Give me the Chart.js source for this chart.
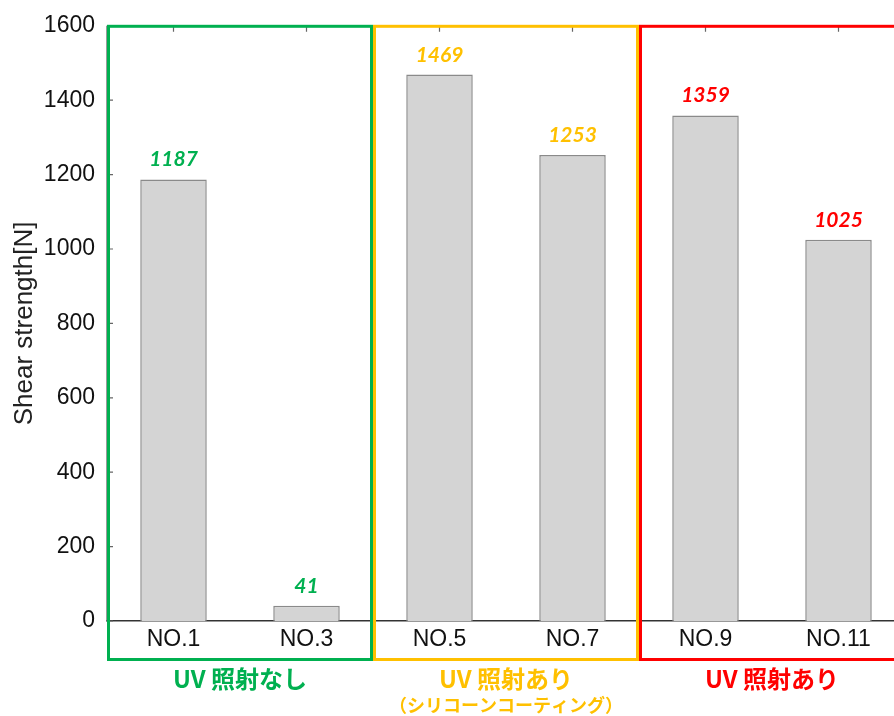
<!DOCTYPE html>
<html>
<head>
<meta charset="utf-8">
<script src="https://cdn.jsdelivr.net/npm/chart.js@4/dist/chart.umd.min.js"></script>
<style>
  html, body { margin: 0; padding: 0; background: #fff; overflow: hidden; }
  #wrap { position: relative; width: 910px; height: 716px; }
</style>
</head>
<body>
<div id="wrap"><canvas id="chart"></canvas></div>
<script>
// Samples and measured shear strength
const categories = ['NO.1', 'NO.3', 'NO.5', 'NO.7', 'NO.9', 'NO.11'];
const shearStrength = [1187, 41, 1469, 1253, 1359, 1025];
// Which treatment group each sample belongs to
const sampleGroup = [0, 0, 1, 1, 2, 2];
// Treatment groups
const groupNames = ['UV 照射なし', 'UV 照射あり', 'UV 照射あり'];
const groupNotes = ['', '（シリコーンコーティング）', ''];
const groupColors = ['#00B050', '#FFC000', '#FF0000'];
// Axis
const yTicks = [0, 200, 400, 600, 800, 1000, 1200, 1400, 1600];
const yTitle = 'Shear strength[N]';

const BASE_FONT = '"Liberation Sans", Arial, Helvetica, sans-serif';

const overlayPlugin = {
  id: 'overlay',
  afterDatasetsDraw(chart) {
    const { ctx, chartArea: a, scales: { x, y } } = chart;
    const half = (x.getPixelForValue(1) - x.getPixelForValue(0)) / 2;
    ctx.save();

    // frame: top line and left axis line
    ctx.strokeStyle = '#7a7a7a';
    ctx.lineWidth = 1.5;
    ctx.beginPath();
    ctx.moveTo(a.left, a.top);
    ctx.lineTo(a.right, a.top);
    ctx.moveTo(a.left, a.top);
    ctx.lineTo(a.left, a.bottom);
    ctx.stroke();

    // inward tick marks: left axis and top edge
    ctx.strokeStyle = '#666';
    ctx.lineWidth = 1.2;
    ctx.beginPath();
    yTicks.forEach(v => {
      const py = y.getPixelForValue(v);
      ctx.moveTo(a.left, py);
      ctx.lineTo(a.left + 6, py);
    });
    categories.forEach((c, i) => {
      const px = x.getPixelForValue(i);
      ctx.moveTo(px, a.top);
      ctx.lineTo(px, a.top + 6);
    });
    ctx.stroke();

    // group boxes and group captions
    groupNames.forEach((name, g) => {
      const idx = sampleGroup.map((s, i) => s === g ? i : -1).filter(i => i >= 0);
      const left = x.getPixelForValue(idx[0]) - half + 1.5;
      const right = x.getPixelForValue(idx[idx.length - 1]) + half - 1.5;
      ctx.strokeStyle = groupColors[g];
      ctx.lineWidth = 3;
      ctx.strokeRect(left, a.top + 0.5, right - left, a.bottom + 38 - a.top);

      const cx = (left + right) / 2;
      ctx.fillStyle = groupColors[g];
      ctx.textAlign = 'center';
      ctx.textBaseline = 'middle';
      ctx.font = 'bold 24px "Noto Sans CJK JP", sans-serif';
      ctx.fillText(name, cx, a.bottom + 58);
      if (groupNotes[g]) {
        ctx.font = 'bold 18px "Noto Sans CJK JP", sans-serif';
        ctx.fillText(groupNotes[g], cx, a.bottom + 84);
      }
    });

    // value labels above bars
    ctx.textAlign = 'center';
    ctx.textBaseline = 'alphabetic';
    ctx.font = 'italic bold 21px Lato, "Open Sans", sans-serif';
    shearStrength.forEach((v, i) => {
      ctx.fillStyle = groupColors[sampleGroup[i]];
      ctx.fillText(String(v), x.getPixelForValue(i), y.getPixelForValue(v) - 13);
    });

    ctx.restore();
  }
};

new Chart(document.getElementById('chart'), {
  type: 'bar',
  data: {
    labels: categories,
    datasets: [{
      data: shearStrength,
      backgroundColor: '#d4d4d4',
      borderColor: '#8a8a8a',
      borderWidth: 1.5,
      barPercentage: 0.5,
      categoryPercentage: 1.0
    }]
  },
  options: {
    responsive: true,
    maintainAspectRatio: false,
    animation: false,
    devicePixelRatio: 1,
    layout: { padding: { top: 24, right: 5, left: 0, bottom: 0 } },
    plugins: {
      legend: { display: false },
      tooltip: { enabled: false }
    },
    scales: {
      x: {
        grid: { display: false, drawTicks: false },
        border: { display: true, color: '#333', width: 1.5 },
        ticks: {
          font: { family: BASE_FONT, size: 23 },
          color: '#111',
          padding: 5,
          maxRotation: 0
        },
        afterFit(s) { s.height = 95; }
      },
      y: {
        min: 0,
        max: 1600,
        afterBuildTicks(s) { s.ticks = yTicks.map(v => ({ value: v })); },
        grid: { display: false, drawTicks: false },
        border: { display: false },
        ticks: {
          font: { family: BASE_FONT, size: 23 },
          color: '#111',
          padding: 12,
          callback: v => String(v)
        },
        title: {
          display: true,
          text: yTitle,
          font: { family: BASE_FONT, size: 26 },
          color: '#222',
          padding: { top: 9, bottom: 0 }
        },
        afterFit(s) { s.width = 107; }
      }
    }
  },
  plugins: [overlayPlugin]
});
</script>
</body>
</html>
